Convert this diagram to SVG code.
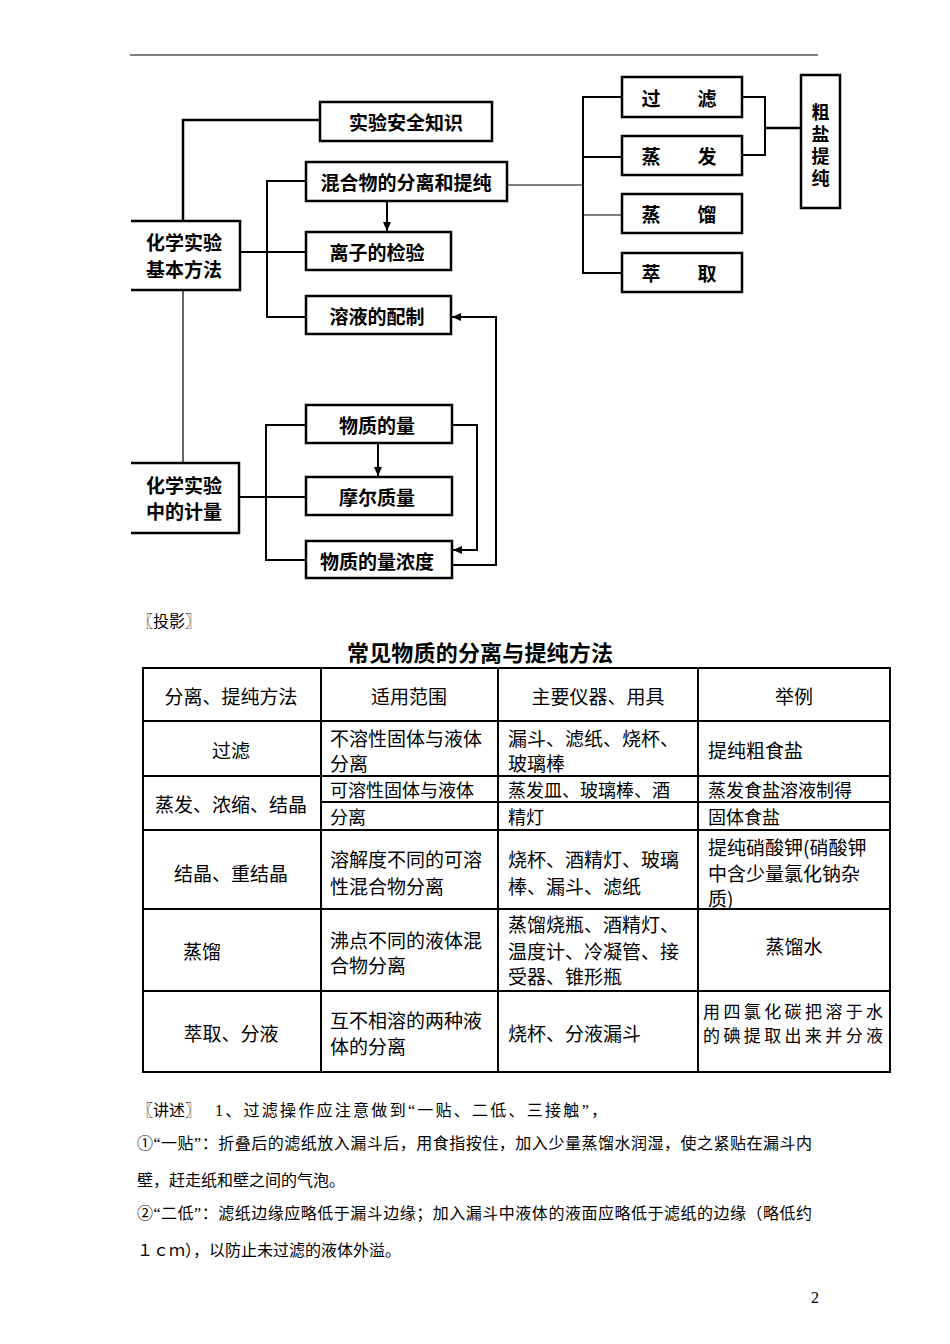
<svg xmlns="http://www.w3.org/2000/svg" width="950" height="1344" viewBox="0 0 950 1344">
<style>
.bx{fill:none;stroke:#000;stroke-width:2.5}
.ln{fill:none;stroke:#000;stroke-width:2}
.th{fill:none;stroke:#000;stroke-width:1.2}
.lb{font-family:"Noto Sans CJK SC","Noto Sans",sans-serif;font-size:19px;font-weight:bold;fill:#000;text-anchor:middle;dominant-baseline:central}
.vs{font-size:18px;writing-mode:tb;letter-spacing:4px}
.tb{fill:none;stroke:#000;stroke-width:2}
.tc{font-family:"Noto Sans CJK SC","Noto Sans",sans-serif;font-size:19px;fill:#000;dominant-baseline:central}
.sm{font-size:18px}
.xs{font-size:17px}
.tm{text-anchor:middle}
.tt{font-family:"Noto Sans CJK SC",sans-serif;font-size:22px;font-weight:bold;fill:#000;dominant-baseline:central}
.bd{font-family:"Liberation Serif","Noto Sans CJK SC",serif;font-size:16px;fill:#000;dominant-baseline:central}
</style>
<defs>
<marker id="ah" markerUnits="userSpaceOnUse" markerWidth="10" markerHeight="10" refX="9" refY="4" orient="auto">
<path d="M0,0 L9,4 L0,8 Z" fill="#000"/>
</marker>
</defs>
<rect width="950" height="1344" fill="#fff"/>
<line x1="130" y1="55" x2="818" y2="55" stroke="#000" stroke-width="1"/>

<g id="connectors">
<path class="bx" d="M183,221 V120 H320"/>
<path class="ln" d="M240,252 H306"/>
<path class="ln" d="M306,181 H267 V317 H306"/>
<path class="ln" d="M387,201 V231" marker-end="url(#ah)"/>
<path class="th" d="M507,185 H583"/>
<path class="ln" d="M622,97 H583 V273 H622"/>
<path class="ln" d="M583,157 H622"/>
<path class="th" d="M583,215 H622"/>
<path class="ln" d="M742,97 H765 V155 H742"/>
<path class="bx" d="M765,128 H801"/>
<path class="th" d="M183,290 V463"/>
<path class="ln" d="M239,497 H306"/>
<path class="ln" d="M306,425 H266 V560 H306"/>
<path class="ln" d="M378,443 V476" marker-end="url(#ah)"/>
<path class="ln" d="M452,425 H477 V550 H453" marker-end="url(#ah)"/>
<path class="ln" d="M452,565 H496 V317 H452" marker-end="url(#ah)"/>
</g>

<g id="n-basic">
<path class="bx" d="M131,221 H240 V290 H131"/>
<text class="lb" x="184" y="241">化学实验</text>
<text class="lb" x="184" y="268">基本方法</text>
</g>
<g id="n-safety">
<rect class="bx" x="320" y="102" width="172" height="39"/>
<text class="lb" x="406" y="121.5">实验安全知识</text>
</g>
<g id="n-mixture">
<rect class="bx" x="306" y="162" width="201" height="39"/>
<text class="lb" x="406" y="181.5">混合物的分离和提纯</text>
</g>
<g id="n-ion">
<rect class="bx" x="306" y="232" width="145" height="38"/>
<text class="lb" x="377" y="251">离子的检验</text>
</g>
<g id="n-solution">
<rect class="bx" x="306" y="296" width="145" height="38"/>
<text class="lb" x="377" y="315">溶液的配制</text>
</g>
<g id="n-filter">
<rect class="bx" x="622" y="77" width="120" height="40"/>
<text class="lb" x="651" y="97">过</text><text class="lb" x="707" y="97">滤</text>
</g>
<g id="n-evap">
<rect class="bx" x="622" y="136" width="120" height="39"/>
<text class="lb" x="651" y="155.5">蒸</text><text class="lb" x="707" y="155.5">发</text>
</g>
<g id="n-distill">
<rect class="bx" x="622" y="194" width="120" height="39"/>
<text class="lb" x="651" y="213.5">蒸</text><text class="lb" x="707" y="213.5">馏</text>
</g>
<g id="n-extract">
<rect class="bx" x="622" y="253" width="120" height="39"/>
<text class="lb" x="651" y="272.5">萃</text><text class="lb" x="707" y="272.5">取</text>
</g>
<g id="n-salt">
<rect class="bx" x="801" y="75" width="39" height="133"/>
<text class="lb vs" x="820.5" y="147">粗盐提纯</text>
</g>
<g id="n-measure">
<path class="bx" d="M131,463 H239 V533 H131"/>
<text class="lb" x="184" y="484">化学实验</text>
<text class="lb" x="184" y="510">中的计量</text>
</g>
<g id="n-amount">
<rect class="bx" x="306" y="405" width="146" height="38"/>
<text class="lb" x="377" y="424">物质的量</text>
</g>
<g id="n-molar">
<rect class="bx" x="306" y="477" width="146" height="38"/>
<text class="lb" x="377" y="496">摩尔质量</text>
</g>
<g id="n-conc">
<rect class="bx" x="306" y="541" width="146" height="37"/>
<text class="lb" x="377" y="560">物质的量浓度</text>
</g>

<text class="bd" x="137" y="621">〖投影〗</text>
<text class="tt" x="347" y="651" textLength="266" lengthAdjust="spacing">常见物质的分离与提纯方法</text>

<g id="table">
<rect class="tb" x="143" y="668" width="747" height="404"/>
<line class="tb" x1="321" y1="668" x2="321" y2="1072"/>
<line class="tb" x1="498" y1="668" x2="498" y2="1072"/>
<line class="tb" x1="698" y1="668" x2="698" y2="1072"/>
<line class="tb" x1="143" y1="721" x2="890" y2="721"/>
<line class="tb" x1="143" y1="776" x2="890" y2="776"/>
<line class="tb" x1="321" y1="802" x2="890" y2="802"/>
<line class="tb" x1="143" y1="830" x2="890" y2="830"/>
<line class="tb" x1="143" y1="909" x2="890" y2="909"/>
<line class="tb" x1="143" y1="991" x2="890" y2="991"/>

<text class="tc tm" x="231" y="695">分离、提纯方法</text>
<text class="tc tm" x="409" y="695">适用范围</text>
<text class="tc tm" x="598" y="695">主要仪器、用具</text>
<text class="tc tm" x="794" y="695">举例</text>

<text class="tc tm" x="231" y="749">过滤</text>
<text class="tc" x="330" y="737">不溶性固体与液体</text>
<text class="tc" x="330" y="762">分离</text>
<text class="tc" x="508" y="737">漏斗、滤纸、烧杯、</text>
<text class="tc" x="508" y="762">玻璃棒</text>
<text class="tc" x="708" y="749">提纯粗食盐</text>

<text class="tc tm" x="231" y="803">蒸发、浓缩、结晶</text>
<text class="tc sm" x="330" y="789">可溶性固体与液体</text>
<text class="tc sm" x="330" y="816">分离</text>
<text class="tc sm" x="508" y="789">蒸发皿、玻璃棒、酒</text>
<text class="tc sm" x="508" y="816">精灯</text>
<text class="tc sm" x="708" y="789">蒸发食盐溶液制得</text>
<text class="tc sm" x="708" y="816">固体食盐</text>

<text class="tc tm" x="231" y="872">结晶、重结晶</text>
<text class="tc" x="330" y="858">溶解度不同的可溶</text>
<text class="tc" x="330" y="885">性混合物分离</text>
<text class="tc" x="508" y="858">烧杯、酒精灯、玻璃</text>
<text class="tc" x="508" y="885">棒、漏斗、滤纸</text>
<text class="tc" x="708" y="846">提纯硝酸钾(硝酸钾</text>
<text class="tc" x="708" y="872">中含少量氯化钠杂</text>
<text class="tc" x="708" y="897">质)</text>

<text class="tc" x="183" y="950">蒸馏</text>
<text class="tc" x="330" y="939">沸点不同的液体混</text>
<text class="tc" x="330" y="964">合物分离</text>
<text class="tc" x="508" y="923">蒸馏烧瓶、酒精灯、</text>
<text class="tc" x="508" y="950">温度计、冷凝管、接</text>
<text class="tc" x="508" y="975">受器、锥形瓶</text>
<text class="tc tm" x="794" y="945">蒸馏水</text>

<text class="tc tm" x="231" y="1032">萃取、分液</text>
<text class="tc" x="330" y="1019">互不相溶的两种液</text>
<text class="tc" x="330" y="1045">体的分离</text>
<text class="tc" x="508" y="1032">烧杯、分液漏斗</text>
<text class="tc xs" x="703" y="1010" textLength="180" lengthAdjust="spacing">用四氯化碳把溶于水</text>
<text class="tc xs" x="703" y="1034" textLength="180" lengthAdjust="spacing">的碘提取出来并分液</text>
</g>

<text class="bd" x="137" y="1110">〖讲述〗</text>
<text class="bd" x="215" y="1110" textLength="392" lengthAdjust="spacing">1、过滤操作应注意做到“一贴、二低、三接触”，</text>
<text class="bd" x="137" y="1143" textLength="675" lengthAdjust="spacing">①“一贴”：折叠后的滤纸放入漏斗后，用食指按住，加入少量蒸馏水润湿，使之紧贴在漏斗内</text>
<text class="bd" x="137" y="1180">壁，赶走纸和壁之间的气泡。</text>
<text class="bd" x="137" y="1213" textLength="675" lengthAdjust="spacing">②“二低”：滤纸边缘应略低于漏斗边缘；加入漏斗中液体的液面应略低于滤纸的边缘（略低约</text>
<text class="bd" x="137" y="1250">１ｃｍ），以防止未过滤的液体外溢。</text>
<text class="bd" x="811" y="1297">2</text>
</svg>
